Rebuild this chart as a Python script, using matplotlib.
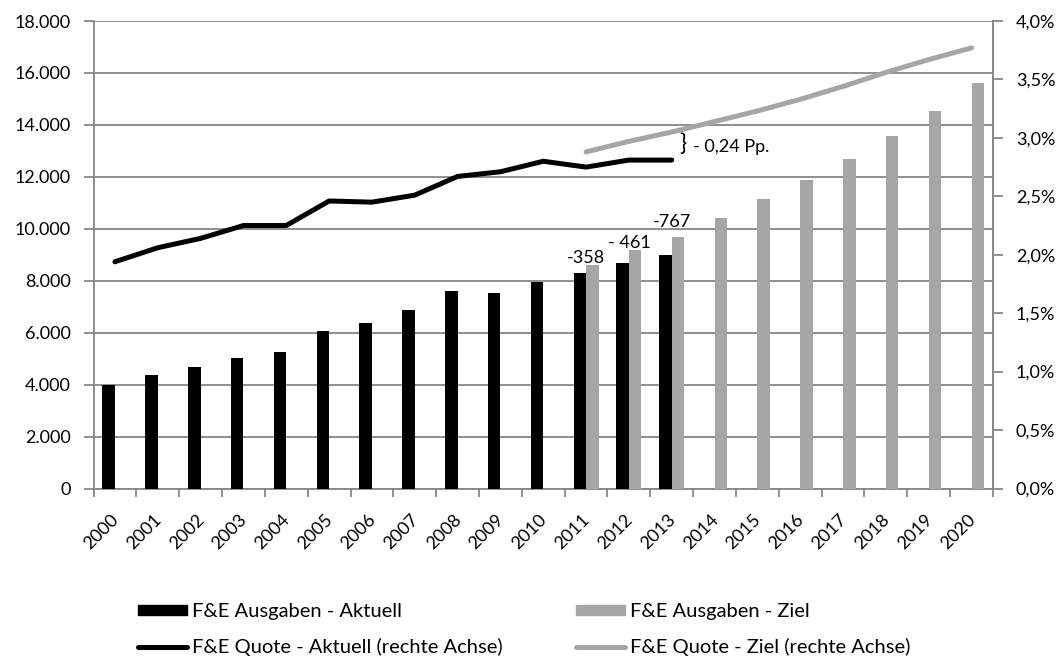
import matplotlib
matplotlib.use("Agg")
import matplotlib.pyplot as plt
from matplotlib.lines import Line2D
from matplotlib.patches import Patch
import numpy as np

plt.rcParams['font.family'] = ['Lato', 'DejaVu Sans']

years = [str(y) for y in range(2000, 2021)]
ausgaben_aktuell = [4000, 4380, 4680, 5030, 5250, 6060, 6360, 6860, 7590, 7520, 7970, 8310, 8690, 8980]
ausgaben_ziel = [8610, 9180, 9700, 10430, 11160, 11880, 12690, 13580, 14530, 15620]
quote_aktuell = [1.94, 2.06, 2.14, 2.25, 2.25, 2.46, 2.45, 2.51, 2.67, 2.71, 2.80, 2.75, 2.81, 2.81]
quote_ziel = [2.88, 2.97, 3.05, 3.14, 3.23, 3.33, 3.44, 3.56, 3.67, 3.77]
diff_labels = ["-358", "- 461", "-767"]
left_ticks = [0, 2000, 4000, 6000, 8000, 10000, 12000, 14000, 16000, 18000]
right_ticks = [0, 0.5, 1.0, 1.5, 2.0, 2.5, 3.0, 3.5, 4.0]

BLACK = "#000000"
GRAY = "#A6A6A6"
AXC = "#878787"
FS = 13

fig = plt.figure(figsize=(10.63, 6.59), dpi=100)
ax = fig.add_axes([93.5/1063, 1-488.5/659, (993-93.5)/1063, (488.5-21)/659])
ax2 = ax.twinx()

n = len(years)
x = np.arange(n)
w = 0.29
xa = x[:len(ausgaben_aktuell)]
xz = x[n-len(ausgaben_ziel):]
ax.bar(xa - w/2, ausgaben_aktuell, width=w, color=BLACK, zorder=3)
ax.bar(xz + w/2, ausgaben_ziel, width=w, color=GRAY, zorder=3)

ax.set_xlim(-0.5, n-0.5)
ax.set_ylim(0, 18000)
ax.set_yticks(left_ticks)
ax.set_yticklabels([f"{v:,}".replace(",", ".") for v in left_ticks])
ax.grid(axis='y', color=AXC, linewidth=1.3, zorder=0)
ax.set_axisbelow(True)

ax.set_xticks(np.arange(-0.5, n, 1.0))
ax.set_xticklabels([])
ax.set_xticks(x, minor=True)
ax.set_xticklabels(years, minor=True, rotation=45, ha='right', va='center_baseline',
                   rotation_mode='anchor', fontsize=FS)
ax.tick_params(axis='x', which='major', length=6, color=AXC, width=1.3)
ax.tick_params(axis='x', which='minor', length=0, pad=20)
ax.tick_params(axis='y', length=7, color=AXC, width=1.3, labelsize=FS, pad=9.5)

for s in ['top']:
    ax.spines[s].set_visible(False)
    ax2.spines[s].set_visible(False)
for s in ['left', 'bottom', 'right']:
    ax.spines[s].set_color(AXC)
    ax.spines[s].set_linewidth(1.3)
ax2.spines['right'].set_color(AXC)
ax2.spines['right'].set_linewidth(1.3)
ax2.spines['left'].set_visible(False)
ax2.spines['bottom'].set_visible(False)

ax2.plot(xa, quote_aktuell, color=BLACK, linewidth=3.6, solid_capstyle='round', solid_joinstyle='round', zorder=4)
ax2.plot(xz, quote_ziel, color=GRAY, linewidth=3.6, solid_capstyle='round', solid_joinstyle='round', zorder=4)
ax2.set_ylim(0, 4.0)
ax2.set_yticks(right_ticks)
ax2.set_yticklabels([f"{v:.1f}%".replace(".", ",") for v in right_ticks])
ax2.tick_params(axis='y', length=7, color=AXC, width=1.3, labelsize=FS, pad=9.5)

# difference labels above the target bars, centred on the category
label_offsets = [1.5, 1.5, 7]
for i, (lab, dy) in enumerate(zip(diff_labels, label_offsets)):
    ax.annotate(lab, (xz[i], ausgaben_ziel[i]), xytext=(0, dy), textcoords='offset points',
                ha='center', va='baseline', fontsize=FS, zorder=5)

# brace annotation
ax2.annotate("}", (xa[-1], quote_aktuell[-1]), xytext=(5.5, 11.5), textcoords='offset points',
             ha='left', va='center', fontsize=17)
ax2.annotate("- 0,24 Pp.", (xa[-1], quote_aktuell[-1]), xytext=(15, 9.5), textcoords='offset points',
             ha='left', va='center', fontsize=FS)

h1 = [Patch(color=BLACK), Line2D([], [], color=BLACK, linewidth=3.6, solid_capstyle='round')]
h2 = [Patch(color=GRAY), Line2D([], [], color=GRAY, linewidth=3.6, solid_capstyle='round')]
l1 = ["F&E Ausgaben - Aktuell", "F&E Quote - Aktuell (rechte Achse)"]
l2 = ["F&E Ausgaben - Ziel", "F&E Quote - Ziel (rechte Achse)"]
LFS = 14.5
for h, l, xpos in [(h1, l1, 138/1063), (h2, l2, 576/1063)]:
    fig.legend(h, l, loc='center left', bbox_to_anchor=(xpos, 1-629.5/659), frameon=False,
               fontsize=LFS, handlelength=2.45, handleheight=0.35, handletextpad=0.25,
               labelspacing=0.85, borderaxespad=0, borderpad=0)

fig.savefig("out.png", dpi=100)
